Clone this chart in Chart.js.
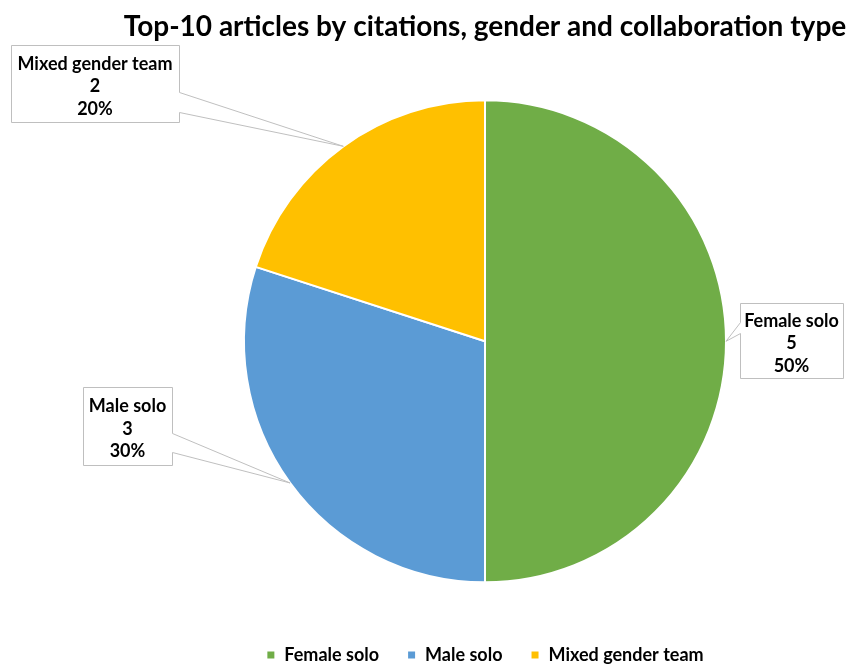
<!DOCTYPE html>
<html>
<head>
<meta charset="utf-8">
<script src="https://cdn.jsdelivr.net/npm/chart.js@4.4.1/dist/chart.umd.min.js"></script>
<style>
    html, body { margin: 0; padding: 0; background: #fff; overflow: hidden; }
    canvas { display: block; }
</style>
</head>
<body>
<canvas id="pieChart" width="848" height="674"></canvas>
<script>
const chartTitle = 'Top-10 articles by citations, gender and collaboration type';
const categories = ['Female solo', 'Male solo', 'Mixed gender team'];
const articleCounts = [5, 3, 2];
const sliceColors = ['#70AD47', '#5B9BD5', '#FFC000'];

// callout boxes (layout only): box rect and where the pointer leaves the box
const calloutBoxes = [
    { x: 740, y: 303, w: 103, h: 75, side: 'left', a1: 19, a2: 30 },
    { x: 83, y: 387, w: 89, h: 78, side: 'right', a1: 46, a2: 65 },
    { x: 11, y: 45, w: 168, h: 77, side: 'right', a1: 47, a2: 67 }
];

const calloutPlugin = {
    id: 'callouts',
    afterDatasetsDraw(chart) {
        const ctx = chart.ctx;
        const meta = chart.getDatasetMeta(0);
        const values = chart.data.datasets[0].data;
        const total = values.reduce((a, b) => a + b, 0);

        meta.data.forEach((arc, i) => {
            const p = arc.getProps(['x', 'y', 'startAngle', 'endAngle', 'outerRadius'], true);
            const mid = (p.startAngle + p.endAngle) / 2;
            const tipX = p.x + Math.cos(mid) * p.outerRadius;
            const tipY = p.y + Math.sin(mid) * p.outerRadius;

            const b = calloutBoxes[i];
            const L = b.x + 0.5, T = b.y + 0.5, R = b.x + b.w + 0.5, B = b.y + b.h + 0.5;
            let pts;
            if (b.side === 'right') {
                pts = [[L, T], [R, T], [R, T + b.a1], [tipX, tipY], [R, T + b.a2], [R, B], [L, B]];
            } else {
                pts = [[L, T], [R, T], [R, B], [L, B], [L, T + b.a2], [tipX, tipY], [L, T + b.a1]];
            }

            ctx.save();
            ctx.beginPath();
            pts.forEach((pt, k) => k === 0 ? ctx.moveTo(pt[0], pt[1]) : ctx.lineTo(pt[0], pt[1]));
            ctx.closePath();
            ctx.fillStyle = '#ffffff';
            ctx.fill();
            ctx.strokeStyle = '#bfbfbf';
            ctx.lineWidth = 1;
            ctx.stroke();

            const lines = [
                chart.data.labels[i],
                String(values[i]),
                Math.round(values[i] / total * 100) + '%'
            ];
            ctx.fillStyle = '#000';
            ctx.font = 'bold 18px Lato';
            ctx.textAlign = 'center';
            ctx.textBaseline = 'middle';
            const cx = b.x + b.w / 2;
            const cy = b.y + b.h / 2 + 3;
            lines.forEach((t, k) => ctx.fillText(t, cx, cy + (k - 1) * 22.5));
            ctx.restore();
        });
    }
};

new Chart(document.getElementById('pieChart'), {
    type: 'pie',
    data: {
        labels: categories,
        datasets: [{
            data: articleCounts,
            backgroundColor: sliceColors,
            borderColor: '#ffffff',
            borderWidth: 2
        }]
    },
    options: {
        responsive: false,
        animation: false,
        devicePixelRatio: 1,
        radius: 241,
        layout: { padding: { left: 122, right: 0, top: 0, bottom: 0 } },
        plugins: {
            title: {
                display: true,
                text: chartTitle,
                color: '#000',
                font: { family: 'Lato', size: 28, weight: 'bold' },
                padding: { top: 10, bottom: 21 }
            },
            legend: {
                position: 'bottom',
                labels: {
                    boxWidth: 9,
                    boxHeight: 9,
                    padding: 28,
                    color: '#000',
                    font: { family: 'Lato', size: 18, weight: 'bold' }
                }
            },
            tooltip: { enabled: false }
        }
    },
    plugins: [calloutPlugin]
});
</script>
</body>
</html>
